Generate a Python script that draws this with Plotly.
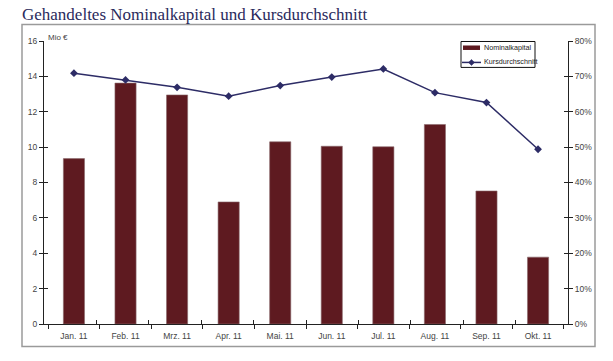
import plotly.graph_objects as go

months = ["Jan. 11", "Feb. 11", "Mrz. 11", "Apr. 11", "Mai. 11",
          "Jun. 11", "Jul. 11", "Aug. 11", "Sep. 11", "Okt. 11"]
nominalkapital = [9.35, 13.62, 12.95, 6.9, 10.3, 10.05, 10.02, 11.28, 7.52, 3.78]
kursdurchschnitt = [70.9, 69.0, 66.9, 64.4, 67.4, 69.8, 72.1, 65.4, 62.6, 49.4]

left_ticks = list(range(0, 17, 2))
right_ticks = list(range(0, 81, 10))
right_labels = [f"{v}%" for v in right_ticks]

BAR = "#5e1a20"
LINE = "#2d2c66"
TXT = "#444444"
FONT = "Liberation Sans Narrow, Liberation Sans, Arial"

# body margin is removed in the page, so the figure fills the window
W, H = 613, 361
PL, PR, PT, PB = 44, 568, 40.5, 324.5   # plot area in page pixels


def px(x):
    return (x - PL) / (PR - PL)


def py(y):
    return (PB - y) / (PB - PT)


fig = go.Figure()
fig.add_trace(go.Bar(
    x=months, y=nominalkapital, name="Nominalkapital",
    marker=dict(color=BAR, line=dict(color="#8a6a6c", width=0.6)),
    yaxis="y", xaxis="x", showlegend=False,
))
fig.add_trace(go.Scatter(
    x=months, y=kursdurchschnitt, name="Kursdurchschnitt",
    mode="lines+markers",
    line=dict(color=LINE, width=1.5),
    marker=dict(symbol="diamond", size=6, color=LINE),
    yaxis="y2", xaxis="x", showlegend=False,
))

axis_common = dict(showgrid=False, zeroline=False, showline=True,
                   linecolor="#222222", linewidth=1, automargin=False,
                   tickcolor="#222222", ticklen=4, tickwidth=1,
                   tickfont=dict(family=FONT, size=8.5, color=TXT))
helper = dict(showgrid=False, zeroline=False, showline=False, automargin=False,
              showticklabels=False, tickcolor="#222222", ticklen=4, ticks="inside")

# custom compact legend (box, swatches, labels)
lx0, lx1, ly0, ly1 = 461, 535, 41, 67
shapes = [
    dict(type="rect", xref="paper", yref="paper",
         x0=px(22), x1=px(595), y0=py(347), y1=py(24),
         line=dict(color="#9a9a9a", width=1.5), layer="below"),
    dict(type="rect", xref="paper", yref="paper",
         x0=px(lx0), x1=px(lx1), y0=py(ly1), y1=py(ly0),
         line=dict(color="#111111", width=1), fillcolor="white"),
    dict(type="rect", xref="paper", yref="paper",
         x0=px(463), x1=px(480), y0=py(49.5), y1=py(45),
         line=dict(width=0), fillcolor=BAR),
    dict(type="line", xref="paper", yref="paper",
         x0=px(462), x1=px(481), y0=py(62), y1=py(62),
         line=dict(color=LINE, width=1.5)),
    dict(type="path", xref="paper", yref="paper",
         path=(f"M {px(471.5)},{py(59)} L {px(474.5)},{py(62)} "
               f"L {px(471.5)},{py(65)} L {px(468.5)},{py(62)} Z"),
         line=dict(color=LINE, width=0.5), fillcolor=LINE),
]

annotations = [
    dict(text="Mio €", xref="paper", yref="paper",
         x=px(46), y=py(37), xanchor="left", yanchor="middle",
         showarrow=False, font=dict(family=FONT, size=8, color=TXT)),
    dict(text=fig.data[0].name, xref="paper", yref="paper",
         x=px(482), y=py(47.5), xanchor="left", yanchor="middle",
         showarrow=False, font=dict(family=FONT, size=7.2, color="#222222")),
    dict(text=fig.data[1].name, xref="paper", yref="paper",
         x=px(482), y=py(61.5), xanchor="left", yanchor="middle",
         showarrow=False, font=dict(family=FONT, size=7.2, color="#222222")),
]

fig.update_layout(
    width=W, height=H,
    margin=dict(l=PL, r=W - PR, t=PT, b=H - PB, autoexpand=False),
    paper_bgcolor="white", plot_bgcolor="white",
    bargap=0.59,
    showlegend=False,
    hovermode=False,
    xaxis=dict(type="category", tickson="boundaries", ticks="outside",
               ticklabelstandoff=4, **axis_common),
    yaxis=dict(range=[0, 16], tickvals=left_ticks, ticks="outside",
               **axis_common),
    yaxis2=dict(range=[0, 80], tickvals=right_ticks, ticktext=right_labels,
                overlaying="y", side="right", ticks="outside",
                **axis_common),
    yaxis3=dict(range=[0, 16], tickvals=left_ticks, overlaying="y",
                side="left", **helper),
    yaxis4=dict(range=[0, 80], tickvals=right_ticks, overlaying="y",
                side="right", **helper),
    xaxis2=dict(range=[-0.5, len(months) - 0.5],
                tickvals=[i - 0.5 for i in range(len(months) + 1)],
                overlaying="x", side="bottom", **helper),
    title=dict(text="Gehandeltes Nominalkapital und Kursdurchschnitt",
               x=22 / W, xanchor="left",
               y=1 - 20 / H, yanchor="bottom",
               font=dict(family="Liberation Serif, Times New Roman, serif",
                         size=17, color="#2a2a5c")),
    shapes=shapes,
    annotations=annotations,
)

# invisible traces so the helper axes render
fig.add_trace(go.Scatter(x=[None], y=[None], yaxis="y3", xaxis="x", showlegend=False, hoverinfo="skip"))
fig.add_trace(go.Scatter(x=[None], y=[None], yaxis="y4", xaxis="x", showlegend=False, hoverinfo="skip"))
fig.add_trace(go.Scatter(x=[None], y=[None], yaxis="y", xaxis="x2", showlegend=False, hoverinfo="skip"))

fig.write_html("out.html",
               config={"displayModeBar": False, "staticPlot": True},
               post_script="document.body.style.margin='0';document.body.style.overflow='hidden';")
